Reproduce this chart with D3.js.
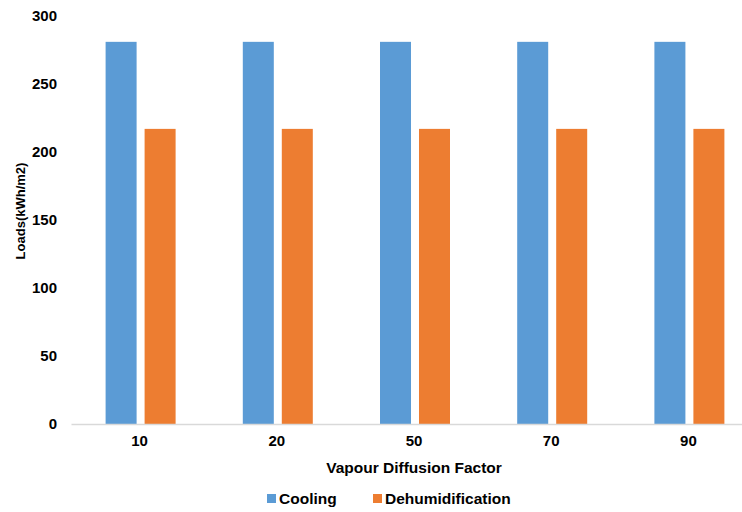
<!DOCTYPE html>
<html>
<head>
<meta charset="utf-8">
<script src="https://cdn.jsdelivr.net/npm/d3@7"></script>
<style>
  html, body { margin: 0; padding: 0; background: #fff; }
  svg { display: block; font-family: "Liberation Sans", Arial, sans-serif; }
</style>
</head>
<body>
<svg id="chart" width="742" height="512"></svg>
<script>
const categories = ["10", "20", "50", "70", "90"];
const seriesNames = ["Cooling", "Dehumidification"];
const cooling = [281, 281, 281, 281, 281];
const dehumidification = [217, 217, 217, 217, 217];
const yTicks = [0, 50, 100, 150, 200, 250, 300];
const colors = ["#5B9BD5", "#ED7D31"];

const svg = d3.select("#chart");
const width = 742, height = 512;
const plotLeft = 71, plotRight = 757; // plot area runs slightly past the right edge
const plotTop = 16, plotBottom = 424;

const x = d3.scaleBand().domain(categories).range([plotLeft, plotRight]).padding(0);
const y = d3.scaleLinear().domain([0, 300]).range([plotBottom, plotTop]);
// two bars per category with a small gap between them
const groupW = 70;
const groupStart = (x.bandwidth() - groupW) / 2 + 1;
const xs = d3.scaleBand().domain(seriesNames).range([groupStart, groupStart + groupW]).paddingInner(0.205).paddingOuter(0);

const values = [cooling, dehumidification];
const rows = categories.map((c, i) => ({ cat: c, vals: seriesNames.map((s, k) => ({ s, k, v: values[k][i] })) }));

// bars
const g = svg.append("g");
g.selectAll("g.cat").data(rows).join("g")
  .attr("class", "cat")
  .attr("transform", d => `translate(${x(d.cat)},0)`)
  .selectAll("rect").data(d => d.vals).join("rect")
  .attr("x", d => xs(d.s))
  .attr("width", xs.bandwidth())
  .attr("y", d => y(d.v))
  .attr("height", d => y(0) - y(d.v))
  .attr("fill", d => colors[d.k]);

// x axis
const xAxis = svg.append("g")
  .attr("transform", `translate(0,${plotBottom})`)
  .call(d3.axisBottom(x).tickSize(0).tickPadding(11));
xAxis.select(".domain").attr("stroke", "#D9D9D9").attr("stroke-width", 1.3);
xAxis.selectAll("text")
  .attr("font-size", 15).attr("font-weight", "bold").attr("fill", "#000")
  .attr("font-family", "Liberation Sans, Arial, sans-serif");

// y axis
const yAxis = svg.append("g")
  .attr("transform", `translate(${plotLeft + 1},0)`)
  .call(d3.axisLeft(y).tickValues(yTicks).tickSize(0).tickPadding(15));
yAxis.select(".domain").remove();
yAxis.selectAll("text")
  .attr("font-size", 15).attr("font-weight", "bold").attr("fill", "#000")
  .attr("font-family", "Liberation Sans, Arial, sans-serif");

// axis titles
svg.append("text")
  .attr("x", 414)
  .attr("y", 473)
  .attr("text-anchor", "middle")
  .attr("font-size", 15.5).attr("font-weight", "bold")
  .text("Vapour Diffusion Factor");

svg.append("text")
  .attr("transform", "translate(25,211) rotate(-90)")
  .attr("text-anchor", "middle")
  .attr("font-size", 13).attr("font-weight", "bold")
  .text("Loads(kWh/m2)");

// legend
const legendX = [267, 373];
const legend = svg.append("g");
seriesNames.forEach((s, k) => {
  legend.append("rect")
    .attr("x", legendX[k]).attr("y", 494)
    .attr("width", 9).attr("height", 9)
    .attr("fill", colors[k]);
  legend.append("text")
    .attr("x", legendX[k] + 12).attr("y", 504)
    .attr("font-size", 15.5).attr("font-weight", "bold")
    .text(s);
});
</script>
</body>
</html>
